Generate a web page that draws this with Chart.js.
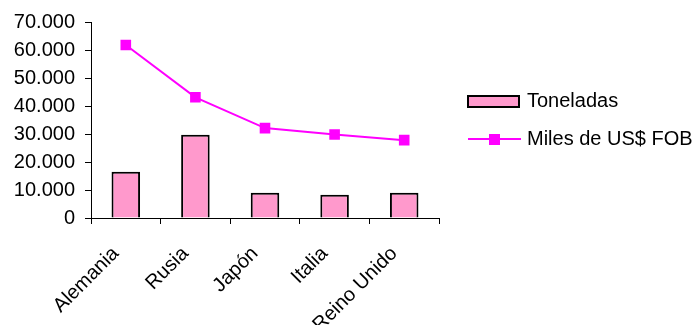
<!DOCTYPE html>
<html>
<head>
<meta charset="utf-8">
<script src="https://cdn.jsdelivr.net/npm/chart.js@4/dist/chart.umd.min.js"></script>
<style>
  html, body { margin: 0; padding: 0; background: #fff; }
  #wrap { width: 697px; height: 325px; }
</style>
</head>
<body>
<div id="wrap"><canvas id="c" width="697" height="325"></canvas></div>
<script>
// Exportaciones por país de destino
const paises = ['Alemania', 'Rusia', 'Japón', 'Italia', 'Reino Unido'];
const toneladas = [16500, 29700, 9000, 8300, 9000];
const milesUSD = [61800, 43100, 32100, 29800, 27800];
const ejeMax = 70000;
const ejePaso = 10000;

const FONT = "'Liberation Sans', Arial, Helvetica, sans-serif";
const FONT_SIZE = 20;
const PINK = '#FF99CC';
const MAGENTA = '#FF00FF';

function fmtMiles(v) {
  return String(v).replace(/\B(?=(\d{3})+(?!\d))/g, '.');
}

// Legend drawn beside the plot area
const sideLegend = {
  id: 'sideLegend',
  afterDraw(chart) {
    const ctx = chart.ctx;
    const bars = chart.data.datasets.find(d => d.type === 'bar');
    const line = chart.data.datasets.find(d => d.type === 'line');
    ctx.save();
    ctx.font = FONT_SIZE + 'px ' + FONT;
    ctx.textBaseline = 'middle';
    // bar series swatch
    ctx.fillStyle = bars.backgroundColor;
    ctx.fillRect(468, 96, 51, 11);
    ctx.strokeStyle = '#000';
    ctx.lineWidth = 2;
    ctx.strokeRect(468, 96, 51, 11);
    ctx.fillStyle = '#000';
    ctx.fillText(bars.label, 527, 101);
    // line series swatch
    ctx.strokeStyle = line.borderColor;
    ctx.lineWidth = 2;
    ctx.beginPath();
    ctx.moveTo(468, 139);
    ctx.lineTo(521, 139);
    ctx.stroke();
    ctx.fillStyle = line.borderColor;
    ctx.fillRect(489, 134, 11, 11);
    ctx.fillStyle = '#000';
    ctx.fillText(line.label, 527, 139);
    ctx.restore();
  }
};

new Chart(document.getElementById('c'), {
  data: {
    labels: paises,
    datasets: [
      {
        type: 'line',
        label: 'Miles de US$ FOB',
        data: milesUSD,
        borderColor: MAGENTA,
        backgroundColor: MAGENTA,
        borderWidth: 2,
        pointStyle: 'rect',
        pointRadius: 7.5,
        pointBorderWidth: 0,
        tension: 0,
        order: 0
      },
      {
        type: 'bar',
        label: 'Toneladas',
        data: toneladas,
        backgroundColor: PINK,
        borderColor: '#000',
        borderWidth: 2,
        categoryPercentage: 1,
        barPercentage: 0.41,
        order: 1
      }
    ]
  },
  options: {
    responsive: false,
    animation: false,
    layout: { padding: { top: 21, right: 258, left: 0, bottom: 0 } },
    plugins: { legend: { display: false }, tooltip: { enabled: false } },
    scales: {
      x: {
        offset: true,
        grid: { offset: true, drawOnChartArea: false, drawTicks: true, tickLength: 6, color: '#000', lineWidth: 1 },
        border: { display: true, color: '#000', width: 1 },
        ticks: {
          color: '#000',
          font: { family: FONT, size: FONT_SIZE },
          minRotation: 45,
          maxRotation: 45,
          padding: 18,
          labelOffset: -10,
          autoSkip: false
        },
        afterFit(s) { s.height = 325 - 218; }
      },
      y: {
        min: 0,
        max: ejeMax,
        grid: { drawOnChartArea: false, drawTicks: true, tickLength: 6, color: '#000', lineWidth: 1 },
        border: { display: true, color: '#000', width: 1 },
        ticks: {
          stepSize: ejePaso,
          autoSkip: false,
          color: '#000',
          font: { family: FONT, size: FONT_SIZE },
          padding: 10,
          callback: v => fmtMiles(v)
        },
        afterFit(s) { s.width = 91; }
      }
    }
  },
  plugins: [sideLegend]
});
</script>
</body>
</html>
